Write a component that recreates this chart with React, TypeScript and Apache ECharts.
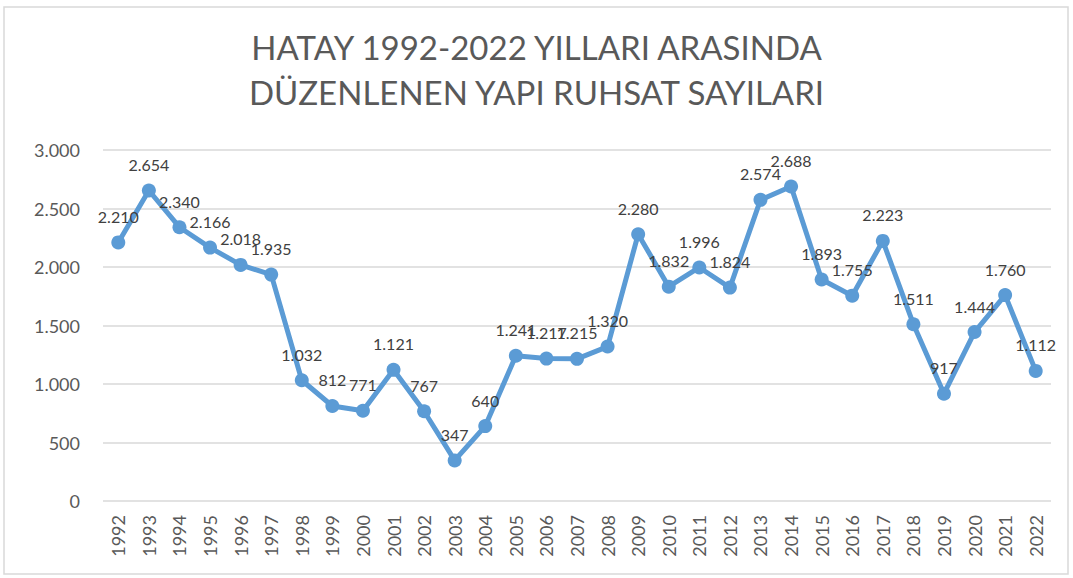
import React, { useEffect, useRef } from "react";
import * as echarts from "echarts";

const years = ["1992","1993","1994","1995","1996","1997","1998","1999","2000","2001","2002","2003","2004","2005","2006","2007","2008","2009","2010","2011","2012","2013","2014","2015","2016","2017","2018","2019","2020","2021","2022"];
const permits = [2210,2654,2340,2166,2018,1935,1032,812,771,1121,767,347,640,1241,1217,1215,1320,2280,1832,1996,1824,2574,2688,1893,1755,2223,1511,917,1444,1760,1112];
const titleText = "HATAY 1992-2022 YILLARI ARASINDA\nDÜZENLENEN YAPI RUHSAT SAYILARI";

const fmt = (v: number) => String(Math.round(v)).replace(/\B(?=(\d{3})+(?!\d))/g, ".");

export default function App() {
  const ref = useRef<HTMLDivElement>(null);
  useEffect(() => {
    if (!ref.current) return;
    const chart = echarts.init(ref.current, null, { renderer: "svg" });
    const font = "Lato, 'Open Sans', sans-serif";
    chart.setOption({
      animation: false,
      backgroundColor: "#ffffff",
      title: {
        text: titleText,
        left: "center",
        top: 19,
        textStyle: { fontFamily: font, fontSize: 33, fontWeight: "normal", color: "#595959", lineHeight: 45 },
      },
      graphic: [
        { type: "rect", shape: { x: 4, y: 7, width: 1064, height: 567 }, style: { fill: "none", stroke: "#d9d9d9", lineWidth: 1.5 }, silent: true },
      ],
      grid: { left: 103, right: 22, top: 150, bottom: 77, containLabel: false },
      xAxis: {
        type: "category",
        data: years,
        boundaryGap: true,
        axisLine: { show: false },
        axisTick: { show: false },
        axisLabel: { rotate: 90, fontFamily: font, fontSize: 18, color: "#595959", margin: 14, interval: 0 },
      },
      yAxis: {
        type: "value",
        min: 0,
        max: 3000,
        interval: 500,
        axisLine: { show: false },
        axisTick: { show: false },
        splitLine: { lineStyle: { color: "#d9d9d9", width: 1.5 } },
        axisLabel: { fontFamily: font, fontSize: 18, color: "#595959", margin: 23, formatter: (v: number) => fmt(v) },
      },
      series: [
        {
          type: "line",
          data: permits,
          symbol: "circle",
          symbolSize: 14,
          lineStyle: { color: "#5b9bd5", width: 5 },
          itemStyle: { color: "#5b9bd5" },
          label: {
            show: true,
            position: "top",
            distance: 11,
            fontFamily: font,
            fontSize: 16,
            color: "#404040",
            formatter: (p: any) => fmt(p.value),
          },
        },
      ],
    });
    return () => chart.dispose();
  }, []);
  return <div ref={ref} style={{ position: "absolute", left: 0, top: 0, width: 1073, height: 578 }} />;
}
